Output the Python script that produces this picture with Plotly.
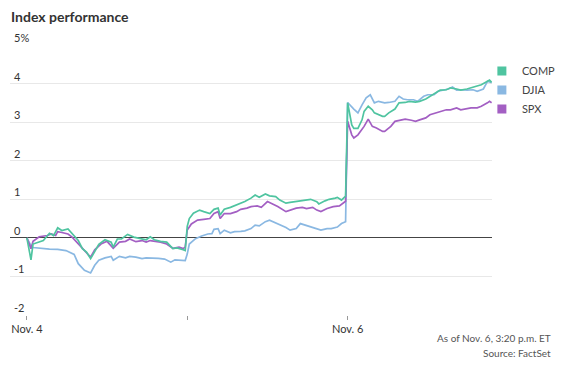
import plotly.graph_objects as go

# x = trading minutes since Nov. 4 open (390 minutes per session)
comp_x = [0, 10, 15, 40, 55, 65, 75, 85, 100, 110, 125, 135, 145, 155, 165, 175, 190, 205, 210, 220,
          230, 245, 260, 270, 285, 290, 300, 310, 325, 340, 355, 365, 380, 385,
          390, 395, 405, 420, 430, 445, 455, 465, 470, 480, 495, 505, 520, 530, 545, 555, 565, 580,
          590, 605, 615, 630, 640, 655, 665, 680, 690, 705, 710, 725, 735, 750, 755, 765, 775,
          780, 790, 795, 805, 815, 820, 830, 840, 845, 855, 865, 870, 880, 895, 905, 920, 930, 945,
          955, 970, 980, 995, 1005, 1020, 1030, 1045, 1055, 1070, 1080, 1095, 1105, 1120, 1125, 1130]
comp_y = [0, -0.57, -0.16, -0.07, 0.12, 0.06, 0.26, 0.19, 0.23, 0.12, -0.07, -0.28, -0.37, -0.54,
          -0.37, -0.17, -0.05, -0.11, -0.24, -0.03, -0.03, 0.09, 0.02, 0.0, -0.03, -0.05, 0.03, -0.05,
          -0.09, -0.11, -0.28, -0.26, -0.31, -0.33,
          0.3, 0.5, 0.64, 0.72, 0.68, 0.63, 0.74, 0.77, 0.59, 0.74, 0.79, 0.83, 0.9, 0.94, 1.03, 1.11,
          1.05, 1.14, 1.09, 1.07, 0.98, 0.9, 0.92, 0.94, 0.96, 0.98, 1.0, 0.94, 0.88, 0.96, 1.0, 1.03,
          1.05, 0.98, 1.08,
          3.5, 2.93, 2.84, 2.84, 3.06, 3.28, 3.41, 3.32, 3.24, 3.19, 3.15, 3.15, 3.24, 3.34, 3.5, 3.51,
          3.54, 3.52, 3.54, 3.6, 3.67, 3.76, 3.83, 3.84, 3.89, 3.86, 3.83, 3.86, 3.89, 3.93, 3.97,
          4.06, 4.09, 4.03]

djia_x = [0, 10, 15, 30, 55, 75, 95, 115, 125, 140, 155, 165, 175, 190, 205, 210, 225, 240, 250,
          265, 280, 290, 305, 320, 335, 350, 360, 380, 385,
          390, 395, 410, 420, 425, 440, 450, 455, 465, 470, 480, 495, 505, 520, 530, 545, 555, 565,
          580, 590, 605, 615, 630, 640, 655, 665, 680, 690, 705, 715, 730, 740, 755, 765, 775,
          780, 795, 805, 815, 825, 835, 845, 855, 870, 880, 895, 905, 915, 925, 940, 950, 965, 975,
          990, 1000, 1015, 1025, 1035, 1045, 1060, 1070, 1085, 1095, 1110, 1120, 1130]
djia_y = [0, -0.2, -0.25, -0.27, -0.29, -0.3, -0.33, -0.43, -0.67, -0.84, -0.91, -0.71, -0.58,
          -0.52, -0.48, -0.58, -0.48, -0.52, -0.48, -0.5, -0.54, -0.52, -0.52, -0.53, -0.55, -0.63,
          -0.57, -0.6, -0.59,
          -0.42, -0.16, -0.02, 0.03, 0.05, 0.1, 0.11, 0.22, 0.24, 0.11, 0.2, 0.13, 0.16, 0.17, 0.18,
          0.24, 0.33, 0.31, 0.42, 0.46, 0.39, 0.33, 0.27, 0.2, 0.24, 0.37, 0.32, 0.27, 0.22, 0.2,
          0.24, 0.24, 0.28, 0.37, 0.42,
          3.51, 3.34, 3.24, 3.45, 3.63, 3.71, 3.5, 3.54, 3.5, 3.51, 3.54, 3.67, 3.6, 3.58, 3.58,
          3.54, 3.67, 3.71, 3.71, 3.8, 3.84, 3.86, 3.91, 3.83, 3.84, 3.83, 3.84, 3.8, 3.86, 4.06, 4.02]

spx_x = [0, 10, 15, 30, 50, 60, 70, 75, 85, 100, 110, 125, 140, 155, 165, 180, 195, 210, 225,
         240, 250, 265, 280, 290, 300, 315, 325, 340, 355, 370, 380, 385,
         390, 400, 415, 430, 445, 455, 465, 470, 480, 495, 510, 520, 535, 545, 560, 570, 585, 595,
         610, 630, 640, 655, 670, 680, 695, 705, 715, 730, 745, 760, 775,
         780, 790, 795, 805, 820, 830, 840, 850, 865, 870, 885, 895, 910, 920, 935, 945, 955, 970,
         980, 995, 1005, 1020, 1030, 1045, 1055, 1070, 1080, 1095, 1105, 1120, 1125, 1130]
spx_y = [0, -0.28, -0.09, 0.03, 0.06, 0.1, 0.06, 0.16, 0.14, 0.1, 0.02, -0.16, -0.34, -0.5, -0.31,
         -0.16, -0.09, -0.27, -0.11, -0.09, -0.03, -0.1, -0.07, -0.11, -0.07, -0.09, -0.11, -0.16,
         -0.27, -0.24, -0.28, -0.24,
         0.2, 0.36, 0.46, 0.48, 0.5, 0.63, 0.68, 0.5, 0.63, 0.63, 0.68, 0.74, 0.77, 0.81, 0.83, 0.79,
         0.94, 0.89, 0.81, 0.68, 0.71, 0.77, 0.79, 0.76, 0.79, 0.72, 0.68, 0.76, 0.81, 0.83, 0.95,
         3.02, 2.67, 2.59, 2.67, 2.89, 3.08, 2.89, 2.85, 2.76, 2.76, 2.89, 3.02, 3.06, 3.08, 3.05,
         3.02, 3.06, 3.11, 3.19, 3.24, 3.28, 3.32, 3.32, 3.37, 3.32, 3.34, 3.37, 3.37, 3.41, 3.5,
         3.54, 3.5]

series_names = ["COMP", "DJIA", "SPX"]
series_colors = ["#4fc4a0", "#8ab8e2", "#a35fc3"]
x_tickvals = [0, 390, 780]
x_ticktext = ["Nov. 4", "", "Nov. 6"]
y_ticks = [5, 4, 3, 2, 1, 0, -1, -2]
y_ticktext = ["5%", "4", "3", "2", "1", "0", "-1", "-2"]

FONT = "Lato, 'Open Sans', sans-serif"
fig = go.Figure()
data = [(djia_x, djia_y), (spx_x, spx_y), (comp_x, comp_y)]
order = [1, 2, 0]
for (xs, ys), i in zip(data, order):
    fig.add_trace(go.Scatter(x=xs, y=ys, mode="lines", showlegend=False,
                             line=dict(color=series_colors[i], width=1.7), hoverinfo="skip"))
for name, color in zip(series_names, series_colors):
    fig.add_trace(go.Scatter(x=[None], y=[None], mode="markers", name=name,
                             marker=dict(symbol="square", size=9, color=color)))

annotations = []
for v, t in zip(y_ticks, y_ticktext):
    annotations.append(dict(x=0, xref="paper", y=v, yref="y", text=t, showarrow=False,
                            xanchor="left", yanchor="bottom", xshift=2, yshift=-1,
                            font=dict(family=FONT, size=11, color="#333")))
annotations.append(dict(x=-0.002, xref="paper", y=1.105, yref="paper", text="<b>Index performance</b>",
                        showarrow=False, xanchor="left", yanchor="middle",
                        font=dict(family=FONT, size=14, color="#333")))
annotations.append(dict(x=1.127, xref="paper", y=-0.085, yref="paper", text="As of Nov. 6, 3:20 p.m. ET",
                        showarrow=False, xanchor="right", yanchor="middle",
                        font=dict(family=FONT, size=10, color="#555")))
annotations.append(dict(x=1.127, xref="paper", y=-0.141, yref="paper", text="Source: FactSet",
                        showarrow=False, xanchor="right", yanchor="middle",
                        font=dict(family=FONT, size=10, color="#555")))

fig.update_layout(
    width=564, height=368,
    margin=dict(l=10, r=72, t=45, b=53, autoexpand=False),
    paper_bgcolor="white", plot_bgcolor="white",
    font=dict(family=FONT, size=11, color="#333"),
    showlegend=True,
    legend=dict(x=0.979, xanchor="left", y=0.957, yanchor="top", bgcolor="rgba(0,0,0,0)",
                font=dict(family=FONT, size=11, color="#444"), tracegroupgap=0),
    xaxis=dict(range=[-41, 1131], tickvals=x_tickvals, ticktext=x_ticktext, showgrid=False,
               zeroline=False, showline=False, ticks="outside", ticklen=4, tickcolor="#999",
               tickfont=dict(family=FONT, size=11, color="#333")),
    yaxis=dict(range=[-2, 5], tickvals=y_ticks, showticklabels=False, showgrid=True,
               gridcolor="#e8e8e8", gridwidth=1, zeroline=True, zerolinecolor="#444",
               zerolinewidth=1.2, showline=False),
    annotations=annotations,
)
fig.write_html("out.html", config={"displayModeBar": False},
               post_script="document.body.style.margin='0';")
